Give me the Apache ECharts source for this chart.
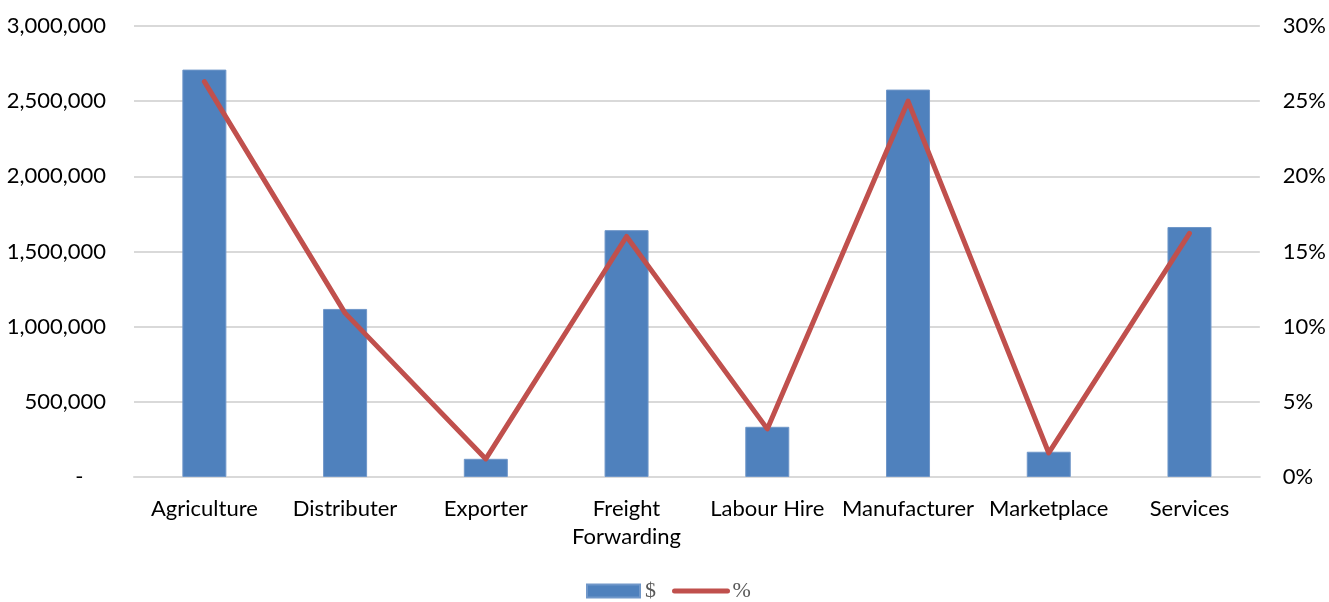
<!DOCTYPE html>
<html>
<head>
<meta charset="utf-8">
<script src="https://cdn.jsdelivr.net/npm/echarts@6/dist/echarts.min.js"></script>
<style>
  html, body { margin: 0; padding: 0; background: #fff; }
  #chart { width: 1329px; height: 602px; }
</style>
</head>
<body>
<div id="chart"></div>
<script>
// categories (x axis)
const categories = ['Agriculture', 'Distributer', 'Exporter', 'Freight\nForwarding',
  'Labour Hire', 'Manufacturer', 'Marketplace', 'Services']
// $ per category
const dollars = [2710000, 1118000, 121000, 1642000, 334000, 2577000, 168000, 1663000]
// % share per category
const percents = [26.3, 10.9, 1.2, 16.0, 3.2, 25.0, 1.6, 16.2]

const labelFont = 'Lato, "Open Sans", sans-serif'

const chart = echarts.init(document.getElementById('chart'), null, { renderer: 'canvas' })

const option = {
  animation: false,
  grid: { left: 134, right: 69, top: 26, bottom: 125 },
  legend: {
    top: 575,
    left: 581,
    itemWidth: 53,
    itemHeight: 13,
    itemGap: 16,
    textStyle: { fontFamily: '"Liberation Serif", serif', fontSize: 22, color: '#595959' },
    data: [
      { name: '$', icon: 'rect' },
      { name: '%', itemStyle: { opacity: 0 }, lineStyle: { width: 5, cap: 'round', color: '#c0504d' } }
    ]
  },
  xAxis: {
    type: 'category',
    data: categories,
    axisLine: { lineStyle: { color: '#d9d9d9', width: 2 } },
    axisTick: { show: false },
    axisLabel: {
      interval: 0,
      margin: 18,
      fontFamily: labelFont,
      fontSize: 22,
      color: '#000',
      lineHeight: 28
    }
  },
  yAxis: [
    {
      type: 'value',
      min: 0,
      max: 3000000,
      interval: 500000,
      axisLine: { show: false },
      axisTick: { show: false },
      splitLine: { lineStyle: { color: '#d9d9d9', width: 2 } },
      axisLabel: {
        margin: 28,
        fontFamily: labelFont,
        fontSize: 22,
        color: '#000',
        formatter: v => v === 0 ? '-    ' : v.toLocaleString('en-US')
      }
    },
    {
      type: 'value',
      min: 0,
      max: 30,
      interval: 5,
      axisLine: { show: false },
      axisTick: { show: false },
      splitLine: { show: false },
      axisLabel: {
        margin: 23,
        fontFamily: labelFont,
        fontSize: 22,
        color: '#000',
        formatter: '{value}%'
      }
    }
  ],
  series: [
    {
      name: '$',
      type: 'bar',
      data: dollars,
      barWidth: 44,
      itemStyle: { color: '#4f81bd', borderColor: '#7097c9', borderWidth: 1 }
    },
    {
      name: '%',
      type: 'line',
      yAxisIndex: 1,
      data: percents,
      symbol: 'none',
      lineStyle: { color: '#c0504d', width: 5, cap: 'round', join: 'round' },
      itemStyle: { color: '#c0504d' }
    }
  ]
}

chart.setOption(option)
</script>
</body>
</html>
